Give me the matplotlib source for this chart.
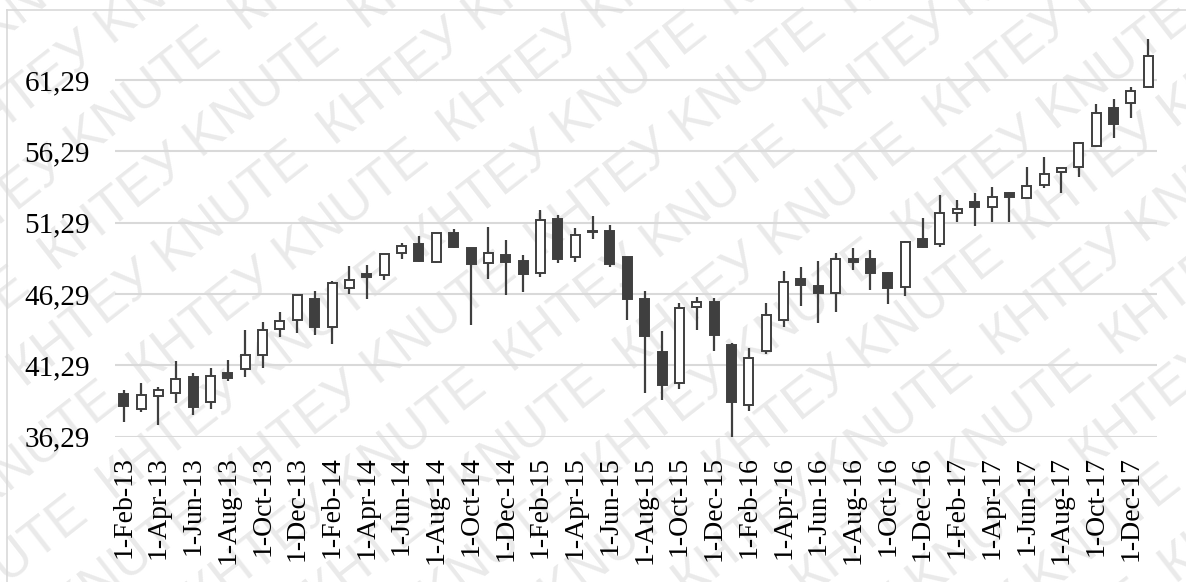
import matplotlib
matplotlib.use("Agg")
import matplotlib.pyplot as plt
from matplotlib.lines import Line2D
import numpy as np

# Monthly OHLC, Feb 2013 - Jan 2018
opens = [39.27, 38.20, 39.13, 39.32, 40.48, 38.73, 40.76, 41.00, 41.98, 43.81,
         44.46, 45.95, 43.95, 46.68, 47.69, 47.62, 49.14, 49.77, 48.50, 50.54,
         49.49, 48.44, 49.02, 48.60, 47.73, 51.52, 48.90, 50.72, 50.72, 48.86,
         45.93, 42.19, 40.06, 45.35, 45.74, 42.71, 38.50, 42.29, 44.46, 47.33,
         46.86, 46.33, 48.74, 48.72, 47.78, 46.79, 50.12, 49.79, 51.94, 52.76,
         52.41, 53.34, 53.04, 53.93, 54.86, 55.21, 56.68, 59.31, 59.66, 60.78]
highs = [39.55, 40.02, 39.78, 41.58, 40.72, 41.07, 41.65, 43.76, 44.34, 45.04,
         46.21, 46.51, 47.20, 48.25, 48.32, 49.12, 49.88, 50.35, 50.58, 50.82,
         49.53, 50.96, 50.07, 49.02, 52.17, 51.82, 50.89, 51.75, 51.10, 48.90,
         46.51, 43.71, 45.63, 46.05, 45.98, 42.83, 42.48, 45.67, 47.90, 48.16,
         48.60, 49.14, 49.53, 49.37, 47.85, 50.02, 51.63, 53.22, 52.85, 53.39,
         53.77, 53.46, 55.21, 55.91, 55.14, 56.92, 59.59, 59.94, 60.82, 64.14]
lows = [37.33, 38.03, 37.10, 38.66, 37.78, 38.20, 40.18, 40.48, 41.07, 43.25,
        43.53, 43.39, 42.78, 46.28, 45.91, 47.26, 48.72, 48.55, 48.44, 49.49,
        44.11, 47.33, 46.19, 46.44, 47.45, 48.44, 48.51, 50.12, 48.20, 44.46,
        39.36, 38.85, 39.60, 43.76, 42.29, 36.28, 38.10, 42.08, 43.99, 45.44,
        44.23, 45.04, 47.97, 46.56, 45.56, 46.14, 49.53, 49.60, 51.35, 51.05,
        51.31, 51.35, 53.00, 53.70, 53.39, 54.51, 56.62, 57.24, 58.60, 60.71]
closes = [38.43, 39.18, 39.55, 40.30, 38.34, 40.53, 40.37, 42.01, 43.76, 44.39,
          46.21, 43.99, 47.08, 47.26, 47.50, 49.09, 49.65, 48.62, 50.54, 49.56,
          48.39, 49.18, 48.55, 47.69, 51.47, 48.74, 50.42, 50.60, 48.37, 45.93,
          43.34, 39.90, 45.28, 45.74, 43.41, 38.69, 41.77, 44.81, 47.10, 46.91,
          46.33, 48.72, 48.51, 47.73, 46.72, 49.95, 49.60, 51.94, 52.25, 52.41,
          53.06, 53.06, 53.86, 54.68, 55.10, 56.85, 59.00, 58.18, 60.54, 62.97]

tick_labels = ["1-Feb-13", "1-Apr-13", "1-Jun-13", "1-Aug-13", "1-Oct-13", "1-Dec-13",
               "1-Feb-14", "1-Apr-14", "1-Jun-14", "1-Aug-14", "1-Oct-14", "1-Dec-14",
               "1-Feb-15", "1-Apr-15", "1-Jun-15", "1-Aug-15", "1-Oct-15", "1-Dec-15",
               "1-Feb-16", "1-Apr-16", "1-Jun-16", "1-Aug-16", "1-Oct-16", "1-Dec-16",
               "1-Feb-17", "1-Apr-17", "1-Jun-17", "1-Aug-17", "1-Oct-17", "1-Dec-17"]
y_ticks = [36.29, 41.29, 46.29, 51.29, 56.29, 61.29]
y_tick_labels = ["36,29", "41,29", "46,29", "51,29", "56,29", "61,29"]

W, H = 1186, 582
fig = plt.figure(figsize=(W / 100, H / 100), dpi=100)
fig.patch.set_facecolor("white")

# faint diagonal watermark across the whole figure, kept behind the chart
wm_text = "  ".join(["КНТЕУ KNUTE"] * 8)
ang = np.deg2rad(38)
perp = np.array([-np.sin(ang), np.cos(ang)])
along = np.array([np.cos(ang), np.sin(ang)])
spacing = 72
for k in range(-14, 14):
    base = np.array([W / 2, H / 2]) + perp * spacing * k - along * 900
    base = base + along * (k % 2) * 95
    t = fig.text(base[0] / W, base[1] / H, wm_text, rotation=38, rotation_mode="anchor",
                 ha="left", va="center", fontsize=38, color="#eaeaea",
                 family="Liberation Sans", zorder=-5)
    t.set_clip_on(True)
    t.set_clip_box(fig.bbox)

# chart border (top and left edges visible)
fig.add_artist(Line2D([7 / W, 1.0], [1 - 10 / H, 1 - 10 / H], color="#d9d9d9", lw=1.2,
                      transform=fig.transFigure, zorder=-4))
fig.add_artist(Line2D([7 / W, 7 / W], [0.0, 1 - 10 / H], color="#d9d9d9", lw=1.2,
                      transform=fig.transFigure, zorder=-4))

ax = fig.add_axes([115 / W, 1 - 436.5 / H, (1157 - 115) / W, (436.5 - 12.8) / H])
ax.set_zorder(2)
ax.patch.set_alpha(0)

n = len(opens)
x = np.arange(n)
o = np.array(opens)
c = np.array(closes)
hi = np.array(highs)
lo = np.array(lows)
up = c >= o

ink = "#3f3f3f"
ax.vlines(x, lo, hi, color=ink, lw=1.6, zorder=3)
body_bottom = np.minimum(o, c)
body_height = np.maximum(np.abs(c - o), 0.08)
ax.bar(x, body_height, bottom=body_bottom, width=0.52,
       color=np.where(up, "white", ink), edgecolor=ink, linewidth=1.4, zorder=4)

ax.set_xlim(-0.5, n - 0.5)
ax.set_ylim(36.29, 66.0)
ax.set_yticks(y_ticks)
ax.set_yticklabels(y_tick_labels)
ax.set_xticks(x[::2])
ax.set_xticklabels(tick_labels, rotation=90)
ax.yaxis.grid(True, color="#d9d9d9", lw=1.5, zorder=1)
ax.set_axisbelow(True)
for s in ax.spines.values():
    s.set_visible(False)
ax.tick_params(axis="both", length=0, labelcolor="black")
ax.tick_params(axis="y", pad=18, labelsize=21)
ax.tick_params(axis="x", pad=14, labelsize=20)
for lab in ax.get_xticklabels() + ax.get_yticklabels():
    lab.set_family("Liberation Serif")

fig.savefig("out.png", dpi=100)
